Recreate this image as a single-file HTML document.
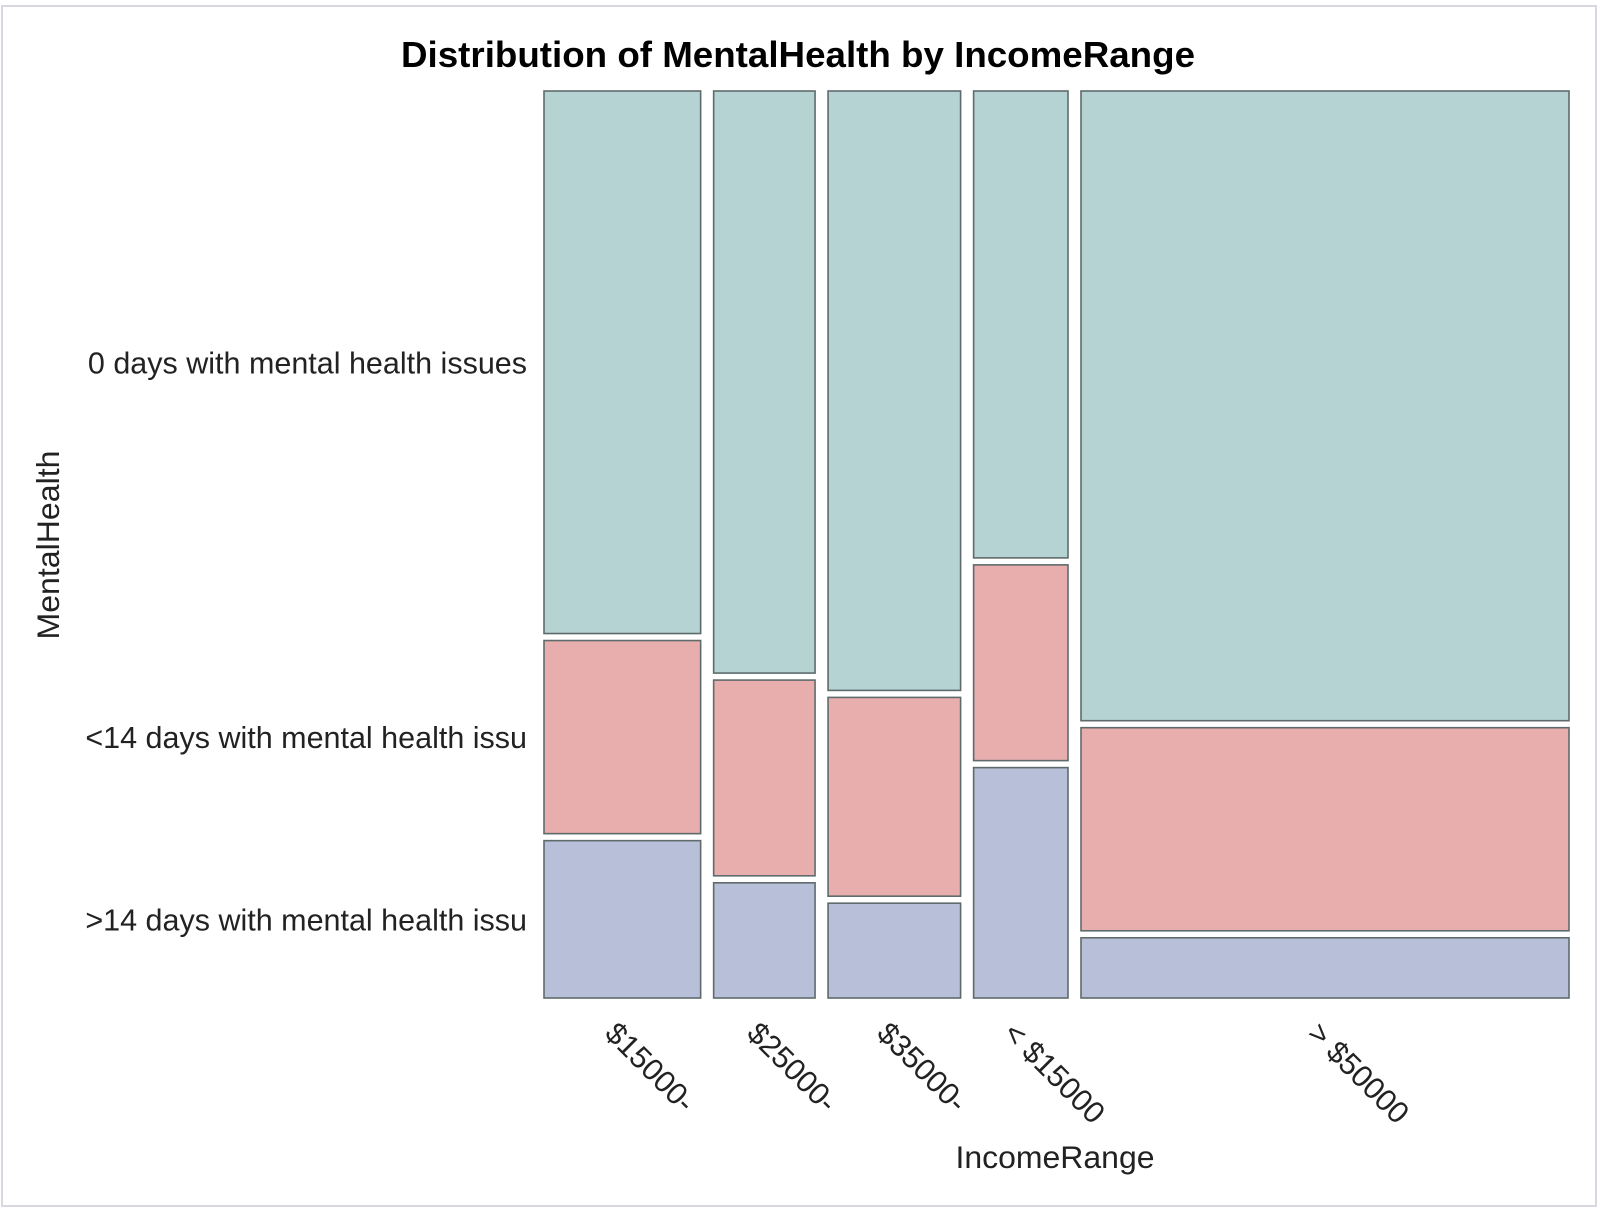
<!DOCTYPE html>
<html><head><meta charset="utf-8"><style>
html,body{margin:0;padding:0;background:#fff;}
svg{display:block;font-family:"Liberation Sans",Arial,sans-serif;}
</style></head><body>
<svg id="chart" width="1602" height="1212" viewBox="0 0 1602 1212">
<rect x="2" y="6" width="1594" height="1200" fill="#fff" stroke="#d8d8e0" stroke-width="2"/>
<text x="798" y="67" text-anchor="middle" font-size="36" font-weight="bold" fill="#000" textLength="794" lengthAdjust="spacingAndGlyphs">Distribution of MentalHealth by IncomeRange</text>
<text transform="translate(59,545) rotate(-90)" text-anchor="middle" font-size="31.5" fill="#222" textLength="189" lengthAdjust="spacingAndGlyphs">MentalHealth</text>
<text x="1055" y="1168" text-anchor="middle" font-size="31.5" fill="#222" textLength="199" lengthAdjust="spacingAndGlyphs">IncomeRange</text>
<g id="marks"></g>
</svg>
<script>
const categories = ["$15000-", "$25000-", "$35000-", "< $15000", "> $50000"];
const columnShares = [156, 101, 132, 94, 486];
const levels = ["0 days with mental health issues", "<14 days with mental health issu", ">14 days with mental health issu"];
const zeroDays = [531, 571, 588, 458, 617];
const under14 = [189, 192, 195, 192, 199];
const over14 = [154, 113, 93, 226, 59];
const colors = ["#b4d3d2", "#e8aeae", "#b7bfd9"];

const NS = "http://www.w3.org/2000/svg";
const g = document.getElementById("marks");
const X0 = 544, X1 = 1569, Y0 = 91, Y1 = 998, GAP = 13, VGAP = 7;
const totalShare = columnShares.reduce((a,b)=>a+b,0);
const usableW = (X1 - X0) - GAP * (categories.length - 1);
function xWidth(s){ return s / totalShare * usableW; }
const series = [zeroDays, under14, over14];
let x = X0;
const rowMid = [[],[],[]];
categories.forEach((cat, i) => {
  const w = xWidth(columnShares[i]);
  const tot = zeroDays[i] + under14[i] + over14[i];
  const usableH = (Y1 - Y0) - VGAP * 2;
  let y = Y0;
  series.forEach((arr, k) => {
    const h = arr[i] / tot * usableH;
    const r = document.createElementNS(NS, "rect");
    r.setAttribute("x", x); r.setAttribute("y", y);
    r.setAttribute("width", w); r.setAttribute("height", h);
    r.setAttribute("fill", colors[k]); r.setAttribute("stroke", "#5f6b6b"); r.setAttribute("stroke-width", "1.6");
    
    
    g.appendChild(r);
    if (i === 0) rowMid[k].push(y + h / 2);
    y += h + VGAP;
  });
  const cx = x + w / 2;
  const t = document.createElementNS(NS, "text");
  t.setAttribute("transform", "translate(" + (cx - 19) + ",1035) rotate(45)");
  t.setAttribute("font-size", "30.5"); t.setAttribute("fill", "#222");
  t.textContent = cat;
  
  
  g.appendChild(t);
  x += w + GAP;
});
levels.forEach((lab, k) => {
  const t = document.createElementNS(NS, "text");
  t.setAttribute("x", 527); t.setAttribute("y", rowMid[k][0] + 11);
  t.setAttribute("text-anchor", "end"); t.setAttribute("font-size", "30.5"); t.setAttribute("fill", "#222");
  t.textContent = lab;
  
  
  g.appendChild(t);
});
</script>
</body></html>
